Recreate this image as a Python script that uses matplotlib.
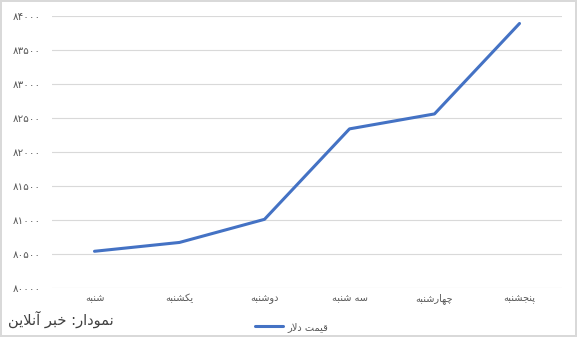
import matplotlib
matplotlib.use('Agg')
import matplotlib.pyplot as plt
from matplotlib.ticker import FuncFormatter

plt.rcParams['font.family'] = ['DejaVu Sans', 'Noto Sans']

# داده‌ها: قیمت دلار در روزهای هفته
ROOZHA = ['شنبه', 'یکشنبه', 'دوشنبه', 'سه شنبه', 'چهارشنبه', 'پنجشنبه']
GHEYMAT = [80540, 80670, 81010, 82340, 82560, 83890]
Y_TICKS = [80000, 80500, 81000, 81500, 82000, 82500, 83000, 83500, 84000]
LEGEND_LABEL = 'قیمت دلار'
MANBA = 'نمودار: خبر آنلاین'

# شکل‌های حروف: (تنها، پایانی، آغازی، میانی) - matplotlib خودش حروف را نمی‌چسباند
FORMS = {
    'ا': ('\uFE8D', '\uFE8E', None, None),
    'آ': ('\uFE81', '\uFE82', None, None),
    'ب': ('\uFE8F', '\uFE90', '\uFE91', '\uFE92'),
    'پ': ('\uFB56', '\uFB57', '\uFB58', '\uFB59'),
    'ت': ('\uFE95', '\uFE96', '\uFE97', '\uFE98'),
    'ج': ('\uFE9D', '\uFE9E', '\uFE9F', '\uFEA0'),
    'چ': ('\uFB7A', '\uFB7B', '\uFB7C', '\uFB7D'),
    'خ': ('\uFEA5', '\uFEA6', '\uFEA7', '\uFEA8'),
    'د': ('\uFEA9', '\uFEAA', None, None),
    'ر': ('\uFEAD', '\uFEAE', None, None),
    'س': ('\uFEB1', '\uFEB2', '\uFEB3', '\uFEB4'),
    'ش': ('\uFEB5', '\uFEB6', '\uFEB7', '\uFEB8'),
    'ق': ('\uFED5', '\uFED6', '\uFED7', '\uFED8'),
    'ک': ('\uFB8E', '\uFB8F', '\uFB90', '\uFB91'),
    'ل': ('\uFEDD', '\uFEDE', '\uFEDF', '\uFEE0'),
    'م': ('\uFEE1', '\uFEE2', '\uFEE3', '\uFEE4'),
    'ن': ('\uFEE5', '\uFEE6', '\uFEE7', '\uFEE8'),
    'ه': ('\uFEE9', '\uFEEA', '\uFEEB', '\uFEEC'),
    'و': ('\uFEED', '\uFEEE', None, None),
    'ی': ('\uFBFC', '\uFBFD', '\uFBFE', '\uFBFF'),
}


def farsi(text):
    """حروف را به هم می‌چسباند و برای نمایش راست به چپ برعکس می‌کند."""
    out = []
    i = 0
    while i < len(text):
        ch = text[i]
        prev = text[i - 1] if i > 0 else ''
        nxt = text[i + 1] if i + 1 < len(text) else ''
        join_prev = prev in FORMS and FORMS[prev][2] is not None
        if ch == 'ل' and nxt == 'ا':
            out.append('\uFEFC' if join_prev else '\uFEFB')
            i += 2
            continue
        if ch not in FORMS:
            out.append(ch)
            i += 1
            continue
        iso, fin, ini, med = FORMS[ch]
        join_next = nxt in FORMS and ini is not None
        if join_prev and join_next:
            out.append(med)
        elif join_prev:
            out.append(fin)
        elif join_next:
            out.append(ini)
        else:
            out.append(iso)
        i += 1
    return ''.join(reversed(out))


def adad_farsi(v, pos=None):
    return str(int(v)).translate(str.maketrans('0123456789', '۰۱۲۳۴۵۶۷۸۹'))


fig = plt.figure(figsize=(5.77, 3.37), dpi=100)
fig.patch.set_edgecolor('#d9d9d9')
fig.patch.set_linewidth(1.5)
ax = fig.add_axes([52 / 577, 49 / 337, 510 / 577, 272 / 337])

x = list(range(len(ROOZHA)))
ax.plot(x, GHEYMAT, color='#4472c4', linewidth=2.2, label=farsi(LEGEND_LABEL),
        solid_capstyle='round')

ax.set_xlim(-0.5, len(ROOZHA) - 0.5)
ax.set_ylim(Y_TICKS[0], Y_TICKS[-1])
ax.set_yticks(Y_TICKS)
ax.yaxis.set_major_formatter(FuncFormatter(adad_farsi))
ax.set_xticks(x)
ax.set_xticklabels([farsi(r) for r in ROOZHA])

ax.grid(axis='y', color='#d9d9d9', linewidth=0.8)
ax.set_axisbelow(True)
for s in ax.spines.values():
    s.set_visible(False)
ax.tick_params(length=0, labelsize=7, labelcolor='#595959')
ax.tick_params(axis='y', pad=8, labelsize=7.5)
ax.tick_params(axis='x', pad=4)

fig.text(0.014, 0.053, farsi(MANBA), fontsize=10.5, color='#404040', ha='left', va='center')

fig.legend(loc='center', bbox_to_anchor=(0.506, 0.03), frameon=False, fontsize=7,
           labelcolor='#595959', handlelength=2.8, handletextpad=0.5)

plt.savefig('out.png', dpi=100, edgecolor=fig.get_edgecolor())
plt.close()
